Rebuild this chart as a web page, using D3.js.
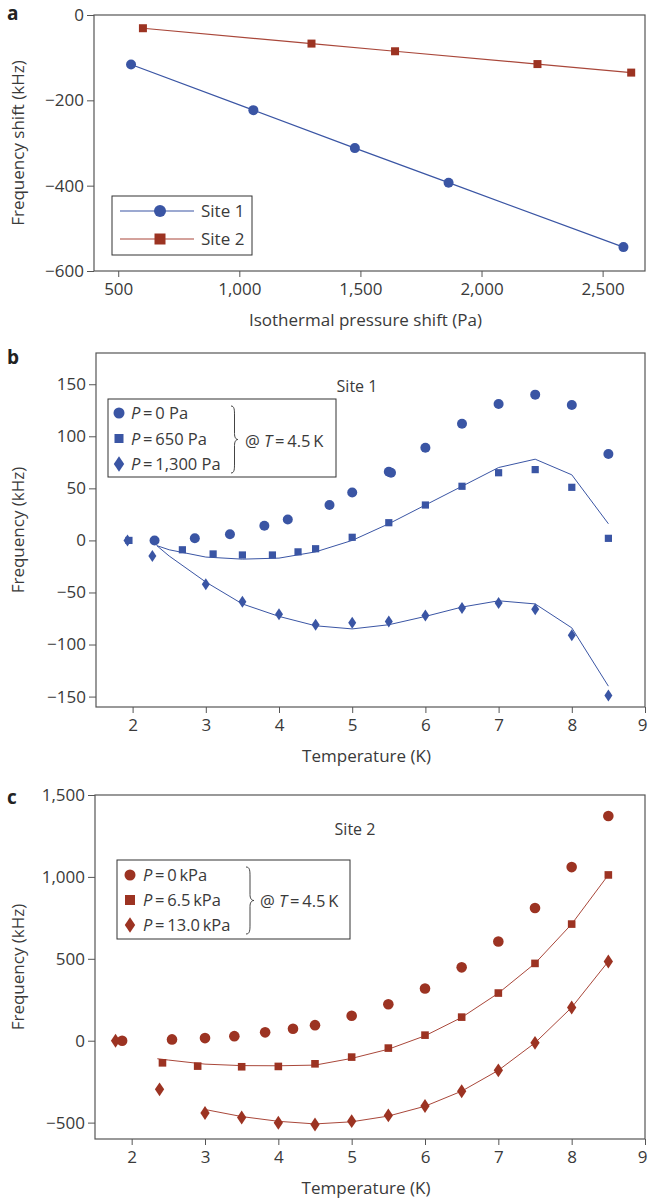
<!DOCTYPE html>
<html>
<head>
<meta charset="utf-8">
<script src="https://cdn.jsdelivr.net/npm/d3@7.9.0/dist/d3.min.js"></script>
<style>
  body { margin: 0; background: #fff; }
  svg text { font-family: "Open Sans", "Noto Sans", sans-serif; fill: #3a3a3a; }
  .tick text { font-size: 17px; }
  .tick line { stroke: #555; }
</style>
</head>
<body>
<div id="chart"></div>
<script>
// ---- panel a: isothermal pressure shift ----
const site1Pressure = [553, 1058, 1477, 1864, 2586];
const site1Shift = [-116, -223, -312, -393, -544];
const site2Pressure = [602, 1298, 1643, 2231, 2618];
const site2Shift = [-31, -67, -85, -115, -135];
const aXTicks = [500, 1000, 1500, 2000, 2500];
const aYTicks = [0, -200, -400, -600];

// ---- panel b: Site 1 ----
const b0T = [2.3, 2.85, 3.33, 3.8, 4.12, 4.69, 5, 5.5, 5.53, 6, 6.5, 7, 7.5, 8, 8.5];
const b0F = [0, 2, 6, 14, 20, 34, 46, 66, 65, 89, 112, 131, 140, 130, 83];
const b650T = [1.95, 2.68, 3.1, 3.5, 3.91, 4.26, 4.5, 5, 5.5, 6, 6.5, 7, 7.5, 8, 8.5];
const b650F = [0, -9, -13, -14, -14, -11, -8, 3, 17, 34, 52, 65, 68, 51, 2];
const b1300T = [1.93, 2.27, 3, 3.5, 4, 4.5, 5, 5.5, 6, 6.5, 7, 7.5, 8, 8.5];
const b1300F = [0, -15, -42, -59, -71, -81, -79, -78, -72, -65, -60, -66, -91, -149];
const bFitT = [2.33, 2.5, 3, 3.5, 4, 4.5, 5, 5.5, 6, 6.5, 7, 7.5, 8, 8.5];
const b650Fit = [-5, -9, -16, -18, -17, -11, 0, 16, 34, 52, 70, 78, 63, 16];
const b1300Fit = [-5, -15, -40, -61, -73, -82, -85, -81, -73, -64, -58, -61, -84, -140];
const bYTicks = [150, 100, 50, 0, -50, -100, -150];

// ---- panel c: Site 2 ----
const c0T = [1.87, 2.55, 3, 3.4, 3.82, 4.2, 4.5, 5, 5.5, 6, 6.5, 7, 7.5, 8, 8.5];
const c0F = [0, 8, 16, 28, 51, 73, 95, 152, 223, 319, 448, 606, 810, 1060, 1372];
const c65T = [2.42, 2.9, 3.5, 4, 4.5, 5, 5.5, 6, 6.5, 7, 7.5, 8, 8.5];
const c65F = [-135, -155, -159, -157, -141, -100, -45, 34, 144, 291, 472, 712, 1012];
const c130T = [1.78, 2.38, 3, 3.5, 4, 4.5, 5, 5.5, 6, 6.5, 7, 7.5, 8, 8.5];
const c130F = [0, -297, -441, -469, -501, -511, -491, -456, -399, -308, -181, -13, 203, 484];
const cFit65T = [2.35, 2.5, 3, 3.5, 4, 4.5, 5, 5.5, 6, 6.5, 7, 7.5, 8, 8.5];
const cFit65F = [-110, -118, -143, -152, -153, -149, -108, -52, 30, 142, 290, 472, 712, 1012];
const cFit130T = [3, 3.5, 4, 4.5, 5, 5.5, 6, 6.5, 7, 7.5, 8, 8.5];
const cFit130F = [-420, -463, -492, -508, -495, -460, -400, -308, -181, -13, 203, 484];
const cYTicks = [1500, 1000, 500, 0, -500];

const tTicks = [2, 3, 4, 5, 6, 7, 8, 9];

const blue = '#3a55a4';
const red = '#9c3322';
const redLine = '#a9473a';

const svg = d3.select('#chart').append('svg')
  .attr('width', 648).attr('height', 1199);

const fmt = d3.format(',');

function zip(xs, ys) { return xs.map((x, i) => [x, ys[i]]); }

function marker(g, kind, x, y, s, color) {
  if (kind === 'circle') {
    g.append('circle').attr('cx', x).attr('cy', y).attr('r', s).attr('fill', color);
  } else if (kind === 'square') {
    g.append('rect').attr('x', x - s).attr('y', y - s).attr('width', 2 * s).attr('height', 2 * s).attr('fill', color);
  } else {
    let w = s * 0.8, h = s * 1.2;
    g.append('path').attr('d', `M${x},${y - h}L${x + w},${y}L${x},${y + h}L${x - w},${y}Z`).attr('fill', color);
  }
}

function brace(g, x, y0, y1, w) {
  let m = (y0 + y1) / 2, h = w * 0.5;
  g.append('path')
    .attr('d', `M${x},${y0} C${x + h},${y0} ${x + h},${y0 + 4} ${x + h},${y0 + 10} L${x + h},${m - 6} C${x + h},${m - 2} ${x + w * 0.7},${m} ${x + w},${m} C${x + w * 0.7},${m} ${x + h},${m + 2} ${x + h},${m + 6} L${x + h},${y1 - 10} C${x + h},${y1 - 4} ${x + h},${y1} ${x},${y1}`)
    .attr('fill', 'none').attr('stroke', '#444').attr('stroke-width', 1);
}

function frame(box, x, y, xTicks, yTicks, xTitle, yTitle, letter, letterY) {
  let g = svg.append('g');
  g.append('g').attr('transform', `translate(0,${box.bottom})`)
    .call(d3.axisBottom(x).tickValues(xTicks).tickFormat(fmt).tickSize(6).tickSizeOuter(0).tickPadding(6))
    .call(a => a.select('.domain').remove())
    .call(a => a.selectAll('.tick text').filter(d => d === 9).attr('dx', -3));
  g.append('g').attr('transform', `translate(${box.left},0)`)
    .call(d3.axisLeft(y).tickValues(yTicks).tickFormat(fmt).tickSize(7).tickSizeOuter(0).tickPadding(3))
    .call(a => a.select('.domain').remove());
  g.append('rect').attr('x', box.left).attr('y', box.top)
    .attr('width', box.right - box.left).attr('height', box.bottom - box.top)
    .attr('fill', 'none').attr('stroke', '#555').attr('stroke-width', 1.2);
  g.append('text').attr('x', (box.left + box.right) / 2 - 4).attr('y', box.bottom + 55)
    .attr('text-anchor', 'middle').style('font-size', '17px').text(xTitle);
  g.append('text').attr('transform', `translate(24,${(box.top + box.bottom) / 2}) rotate(-90)`)
    .attr('text-anchor', 'middle').style('font-size', '17px').text(yTitle);
  g.append('text').attr('x', 7).attr('y', letterY)
    .style('font-size', '19px').style('font-weight', 'bold').style('fill', '#222').text(letter);
  return g;
}

// ================= panel a =================
{
  const box = { left: 94, right: 645, top: 15, bottom: 271 };
  const x = d3.scaleLinear().domain([400, 2675]).range([box.left, box.right]);
  const y = d3.scaleLinear().domain([-600, 0]).range([box.bottom, box.top]);
  const g = frame(box, x, y, aXTicks, aYTicks, 'Isothermal pressure shift (Pa)', 'Frequency shift (kHz)', 'a', 20);
  const line = d3.line().x(d => x(d[0])).y(d => y(d[1]));
  g.append('path').attr('d', line(zip(site1Pressure, site1Shift))).attr('fill', 'none').attr('stroke', blue).attr('stroke-width', 1.2);
  g.append('path').attr('d', line(zip(site2Pressure, site2Shift))).attr('fill', 'none').attr('stroke', redLine).attr('stroke-width', 1.2);
  site1Pressure.forEach((p, i) => marker(g, 'circle', x(p), y(site1Shift[i]), 5, blue));
  site2Pressure.forEach((p, i) => marker(g, 'square', x(p), y(site2Shift[i]), 4, red));

  const lg = g.append('g');
  lg.append('rect').attr('x', 112).attr('y', 196).attr('width', 140).attr('height', 59)
    .attr('fill', '#fff').attr('stroke', '#333').attr('stroke-width', 1);
  const names = ['Site 1', 'Site 2'];
  [[blue, 'circle', blue], [redLine, 'square', red]].forEach((s, i) => {
    let ly = 211 + i * 28;
    lg.append('line').attr('x1', 120).attr('x2', 194).attr('y1', ly).attr('y2', ly).attr('stroke', s[0]).attr('stroke-width', 1.2);
    marker(lg, s[1], 160, ly, s[1] === 'circle' ? 6 : 5.5, s[2]);
    lg.append('text').attr('x', 201).attr('y', ly + 6).style('font-size', '17px').text(names[i]);
  });
}

// ================= panel b =================
{
  const box = { left: 96, right: 645, top: 353, bottom: 707 };
  const x = d3.scaleLinear().domain([1.5, 9]).range([box.left, box.right]);
  const y = d3.scaleLinear().domain([-160, 180]).range([box.bottom, box.top]);
  const g = frame(box, x, y, tTicks, bYTicks, 'Temperature (K)', 'Frequency (kHz)', 'b', 364);
  const line = d3.line().x(d => x(d[0])).y(d => y(d[1]));
  g.append('path').attr('d', line(zip(bFitT, b650Fit))).attr('fill', 'none').attr('stroke', blue).attr('stroke-width', 1);
  g.append('path').attr('d', line(zip(bFitT, b1300Fit))).attr('fill', 'none').attr('stroke', blue).attr('stroke-width', 1);
  b0T.forEach((t, i) => marker(g, 'circle', x(t), y(b0F[i]), 5, blue));
  b650T.forEach((t, i) => marker(g, 'square', x(t), y(b650F[i]), 3.6, blue));
  b1300T.forEach((t, i) => marker(g, 'diamond', x(t), y(b1300F[i]), 5, blue));

  g.append('text').attr('x', 357).attr('y', 392).attr('text-anchor', 'middle').style('font-size', '16px').text('Site 1');

  const lg = g.append('g');
  lg.append('rect').attr('x', 108).attr('y', 399).attr('width', 228).attr('height', 78)
    .attr('fill', '#fff').attr('stroke', '#333').attr('stroke-width', 1);
  const labels = ['\u2009=\u20090 Pa', '\u2009=\u2009650 Pa', '\u2009=\u20091,300 Pa'];
  ['circle', 'square', 'diamond'].forEach((k, i) => {
    let ly = 413 + i * 25.5;
    marker(lg, k, 119, ly, k === 'circle' ? 5.5 : (k === 'square' ? 4.5 : 6.5), blue);
    let t = lg.append('text').attr('x', 131).attr('y', ly + 6).style('font-size', '16.5px');
    t.append('tspan').style('font-style', 'italic').text('P');
    t.append('tspan').text(labels[i]);
  });
  brace(lg, 231, 406, 473, 7);
  let at = lg.append('text').attr('x', 245).attr('y', 447).style('font-size', '16.5px');
  at.append('tspan').text('@ ');
  at.append('tspan').style('font-style', 'italic').text('T');
  at.append('tspan').text('\u2009=\u20094.5\u2009K');
}

// ================= panel c =================
{
  const box = { left: 95, right: 645, top: 795, bottom: 1139 };
  const x = d3.scaleLinear().domain([1.5, 9]).range([box.left, box.right]);
  const y = d3.scaleLinear().domain([-600, 1500]).range([box.bottom, box.top]);
  const g = frame(box, x, y, tTicks, cYTicks, 'Temperature (K)', 'Frequency (kHz)', 'c', 804);
  const line = d3.line().x(d => x(d[0])).y(d => y(d[1]));
  g.append('path').attr('d', line(zip(cFit65T, cFit65F))).attr('fill', 'none').attr('stroke', redLine).attr('stroke-width', 1);
  g.append('path').attr('d', line(zip(cFit130T, cFit130F))).attr('fill', 'none').attr('stroke', redLine).attr('stroke-width', 1);
  c0T.forEach((t, i) => marker(g, 'circle', x(t), y(c0F[i]), 5.3, red));
  c65T.forEach((t, i) => marker(g, 'square', x(t), y(c65F[i]), 3.8, red));
  c130T.forEach((t, i) => marker(g, 'diamond', x(t), y(c130F[i]), 5.8, red));

  g.append('text').attr('x', 355).attr('y', 835).attr('text-anchor', 'middle').style('font-size', '16px').text('Site 2');

  const lg = g.append('g');
  lg.append('rect').attr('x', 117).attr('y', 860).attr('width', 233).attr('height', 79)
    .attr('fill', '#fff').attr('stroke', '#333').attr('stroke-width', 1);
  const labels = ['\u2009=\u20090\u2009kPa', '\u2009=\u20096.5\u2009kPa', '\u2009=\u200913.0\u2009kPa'];
  ['circle', 'square', 'diamond'].forEach((k, i) => {
    let ly = 875 + i * 25;
    marker(lg, k, 130, ly, k === 'circle' ? 5.5 : (k === 'square' ? 5 : 6.5), red);
    let t = lg.append('text').attr('x', 143).attr('y', ly + 6).style('font-size', '16.5px');
    t.append('tspan').style('font-style', 'italic').text('P');
    t.append('tspan').text(labels[i]);
  });
  brace(lg, 246, 867, 934, 8);
  let at = lg.append('text').attr('x', 260).attr('y', 907).style('font-size', '16.5px');
  at.append('tspan').text('@ ');
  at.append('tspan').style('font-style', 'italic').text('T');
  at.append('tspan').text('\u2009=\u20094.5\u2009K');
}
</script>
</body>
</html>
